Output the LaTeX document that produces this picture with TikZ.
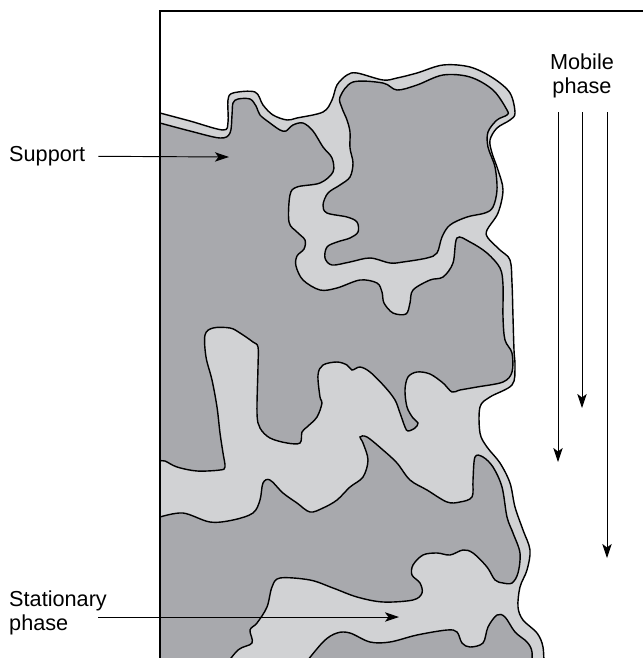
\documentclass[tikz,border=0pt]{standalone}
\usepackage{fontspec}
\setmainfont{Liberation Sans}
\usetikzlibrary{arrows.meta}
\definecolor{supportgray}{RGB}{168,169,173}
\definecolor{phasegray}{RGB}{209,210,212}

\begin{document}
\begin{tikzpicture}[x=0.03cm,y=-0.03cm]
\tikzstyle{every node}=[inner sep=0pt, font=\fontsize{18.5}{20.5}\selectfont]
\tikzstyle{film}=[fill=phasegray, draw=black, line width=1.2pt]
\tikzstyle{grain}=[fill=supportgray, draw=black, line width=1.2pt]
\tikzstyle{flow}=[line width=0.8pt, -{Stealth[length=12pt,width=8pt,inset=3pt]}]
\useasboundingbox (0,0) rectangle (643,658);
% stationary phase film over the whole surface
\draw[film] plot[smooth,tension=.55] coordinates {(160,113) (190,121) (223,130) (228,122) (228,100) (233,93) (255,92) (263,105) (273,115) (287,120) (297,118) (323,112) (332,100) (337,85) (347,75) (357,73) (383,80) (397,78) (417,73) (443,65) (470,67) (493,78) (510,93) (515,113) (510,120) (497,128) (490,140) (492,153) (498,170) (503,190) (498,213) (487,230) (488,238) (500,250) (510,260) (512,283) (513,317) (514,350) (515,367) (512,385) (490,397) (480,407) (480,433) (487,447) (500,463) (510,483) (515,507) (523,530) (530,550) (527,570) (520,587) (518,607) (523,620) (537,633) (543,647) (544,670)} -- (160,670) -- cycle;
% support: main body at the wall
\draw[grain] plot[smooth,tension=.55] coordinates {(160,123) (190,131) (220,138) (230,133) (232,115) (233,103) (238,99) (250,99) (256,106) (260,115) (270,123) (280,130) (286,131) (293,125) (303,123) (313,131) (323,147) (332,158) (333,172) (320,183) (297,187) (290,195) (289,222) (297,232) (305,240) (304,249) (297,256) (296,266) (303,280) (320,290) (337,288) (360,280) (377,283) (382,292) (384,303) (393,313) (406,314) (410,303) (413,290) (430,280) (443,277) (453,263) (457,238) (470,242) (487,253) (500,268) (503,285) (503,317) (505,340) (512,353) (512,372) (503,382) (477,387) (460,390) (452,392) (443,383) (430,374) (417,372) (408,377) (405,390) (407,407) (413,418) (418,423) (415,428) (408,431) (405,427) (400,413) (395,400) (385,387) (370,372) (360,367) (352,370) (347,365) (337,362) (323,365) (318,375) (320,397) (322,403) (317,417) (307,427) (302,432) (300,443) (287,443) (270,438) (260,428) (257,413) (258,367) (258,347) (253,342) (240,333) (230,328) (213,328) (205,335) (206,357) (212,380) (217,407) (220,433) (223,453) (225,467) (220,470) (197,471) (177,467) (165,461) (160,461)} -- cycle;
% support: island under the film
\draw[grain] plot[smooth cycle,tension=.55] coordinates {(340,97) (353,82) (383,83) (397,90) (417,85) (443,75) (470,77) (493,90) (507,110) (507,115) (497,120) (488,132) (488,147) (495,167) (497,190) (493,207) (485,213) (467,217) (450,225) (442,237) (437,253) (427,258) (403,262) (390,263) (370,258) (350,262) (332,265) (325,258) (327,247) (337,242) (350,238) (358,232) (357,222) (347,217) (327,213) (323,205) (328,193) (340,185) (350,177) (353,163) (350,148) (350,132) (347,120) (342,108)};
% support: lower body
\draw[grain] plot[smooth,tension=.55] coordinates {(160,517) (183,513) (210,522) (233,520) (253,513) (260,500) (263,483) (270,480) (283,493) (297,503) (310,512) (323,508) (337,500) (350,487) (363,477) (368,460) (363,443) (360,437) (367,437) (383,450) (397,463) (410,480) (427,490) (447,502) (460,502) (472,497) (473,480) (475,457) (483,457) (493,467) (502,487) (507,517) (513,533) (520,553) (518,573) (512,583) (503,583) (495,580) (487,567) (473,553) (463,550) (450,555) (437,553) (423,555) (413,565) (412,575) (420,583) (422,593) (413,600) (383,602) (357,597) (333,588) (310,580) (280,578) (272,587) (267,607) (257,623) (250,630) (252,643) (238,650) (222,670)} -- (160,670) -- cycle;
% support: bottom corner
\draw[grain] plot[smooth,tension=.55] coordinates {(300,670) (323,642) (337,633) (350,633) (370,642) (390,642) (417,635) (447,630) (457,632) (462,643) (470,647) (483,643) (488,627) (497,615) (505,617) (515,632) (527,642) (532,652) (531,670)} -- cycle;
% column wall
\draw[line width=1.2pt] (160,670) -- (160,11) -- (660,11);
% labels
\node (support) [anchor=west] at (9,156) {Support};
\coordinate (supportTip) at (229,157);
\draw[flow, shorten <=11pt] (support) -- (supportTip);
\node (stationary) [anchor=north west, align=left] at (9,591) {Stationary\\phase};
\coordinate (stationaryTail) at (98,617);
\coordinate (stationaryTip) at (399,617);
\draw[flow] (stationaryTail) -- (stationaryTip);
\node (mobile) [anchor=north, align=center] at (582,54) {Mobile\\phase};
\coordinate (flowA) at (558,112);
\coordinate (flowAtip) at (558,462);
\coordinate (flowB) at (582,112);
\coordinate (flowBtip) at (582,408);
\coordinate (flowC) at (607,112);
\coordinate (flowCtip) at (607,558);
\draw[flow] (flowA) -- (flowAtip);
\draw[flow] (flowB) -- (flowBtip);
\draw[flow] (flowC) -- (flowCtip);
\end{tikzpicture}
\end{document}
